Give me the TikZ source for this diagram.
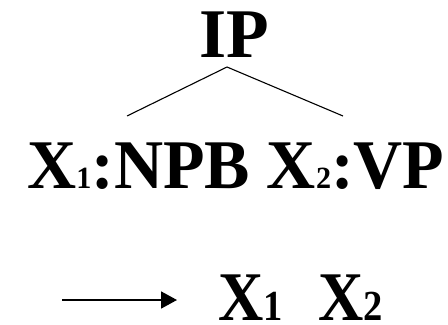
\documentclass[tikz,border=0pt]{standalone}
\usepackage{fontspec}
\usepackage{graphicx}
\setmainfont{Liberation Serif}
\usetikzlibrary{arrows.meta}
\newcommand{\bigfont}{\fontsize{70}{70}\selectfont\bfseries}
\newcommand{\midsub}[1]{{\fontsize{31}{31}\selectfont #1}}
\newcommand{\lowsub}[1]{{\fontsize{43}{43}\selectfont #1}}
\tikzset{
  label text/.style={inner sep=0pt, font=\bigfont},
  branch/.style={line width=1.1bp},
  rewrite/.style={line width=1.8bp, -{Triangle[length=16bp,width=17bp]}}
}
\begin{document}
\begin{tikzpicture}[x=1bp,y=1bp]
  \useasboundingbox (0,0) rectangle (448,324);
  % parent category
  \node[label text, anchor=base] (ip) at (234,267) {IP};
  % children line
  \node[label text, anchor=base west] (kids) at (27,136)
    {\scalebox{0.975}[1]{X\midsub{1}:NPB X\midsub{2}:VP}};
  % tree branches
  \coordinate (apex) at (227,257);
  \coordinate (lend) at (127,208);
  \coordinate (rend) at (343,208);
  \draw[branch] (lend) -- (apex) -- (rend);
  % rewritten order
  \coordinate (astart) at (62,24);
  \node[label text, anchor=base west] (xa) at (218,4)
    {\scalebox{0.9}[1]{X\lowsub{1}}};
  \node[label text, anchor=base west] (xb) at (318,4)
    {\scalebox{0.9}[1]{X\lowsub{2}}};
  \coordinate (aend) at (177,24);
  \draw[rewrite] (astart) -- (aend);
\end{tikzpicture}
\end{document}
